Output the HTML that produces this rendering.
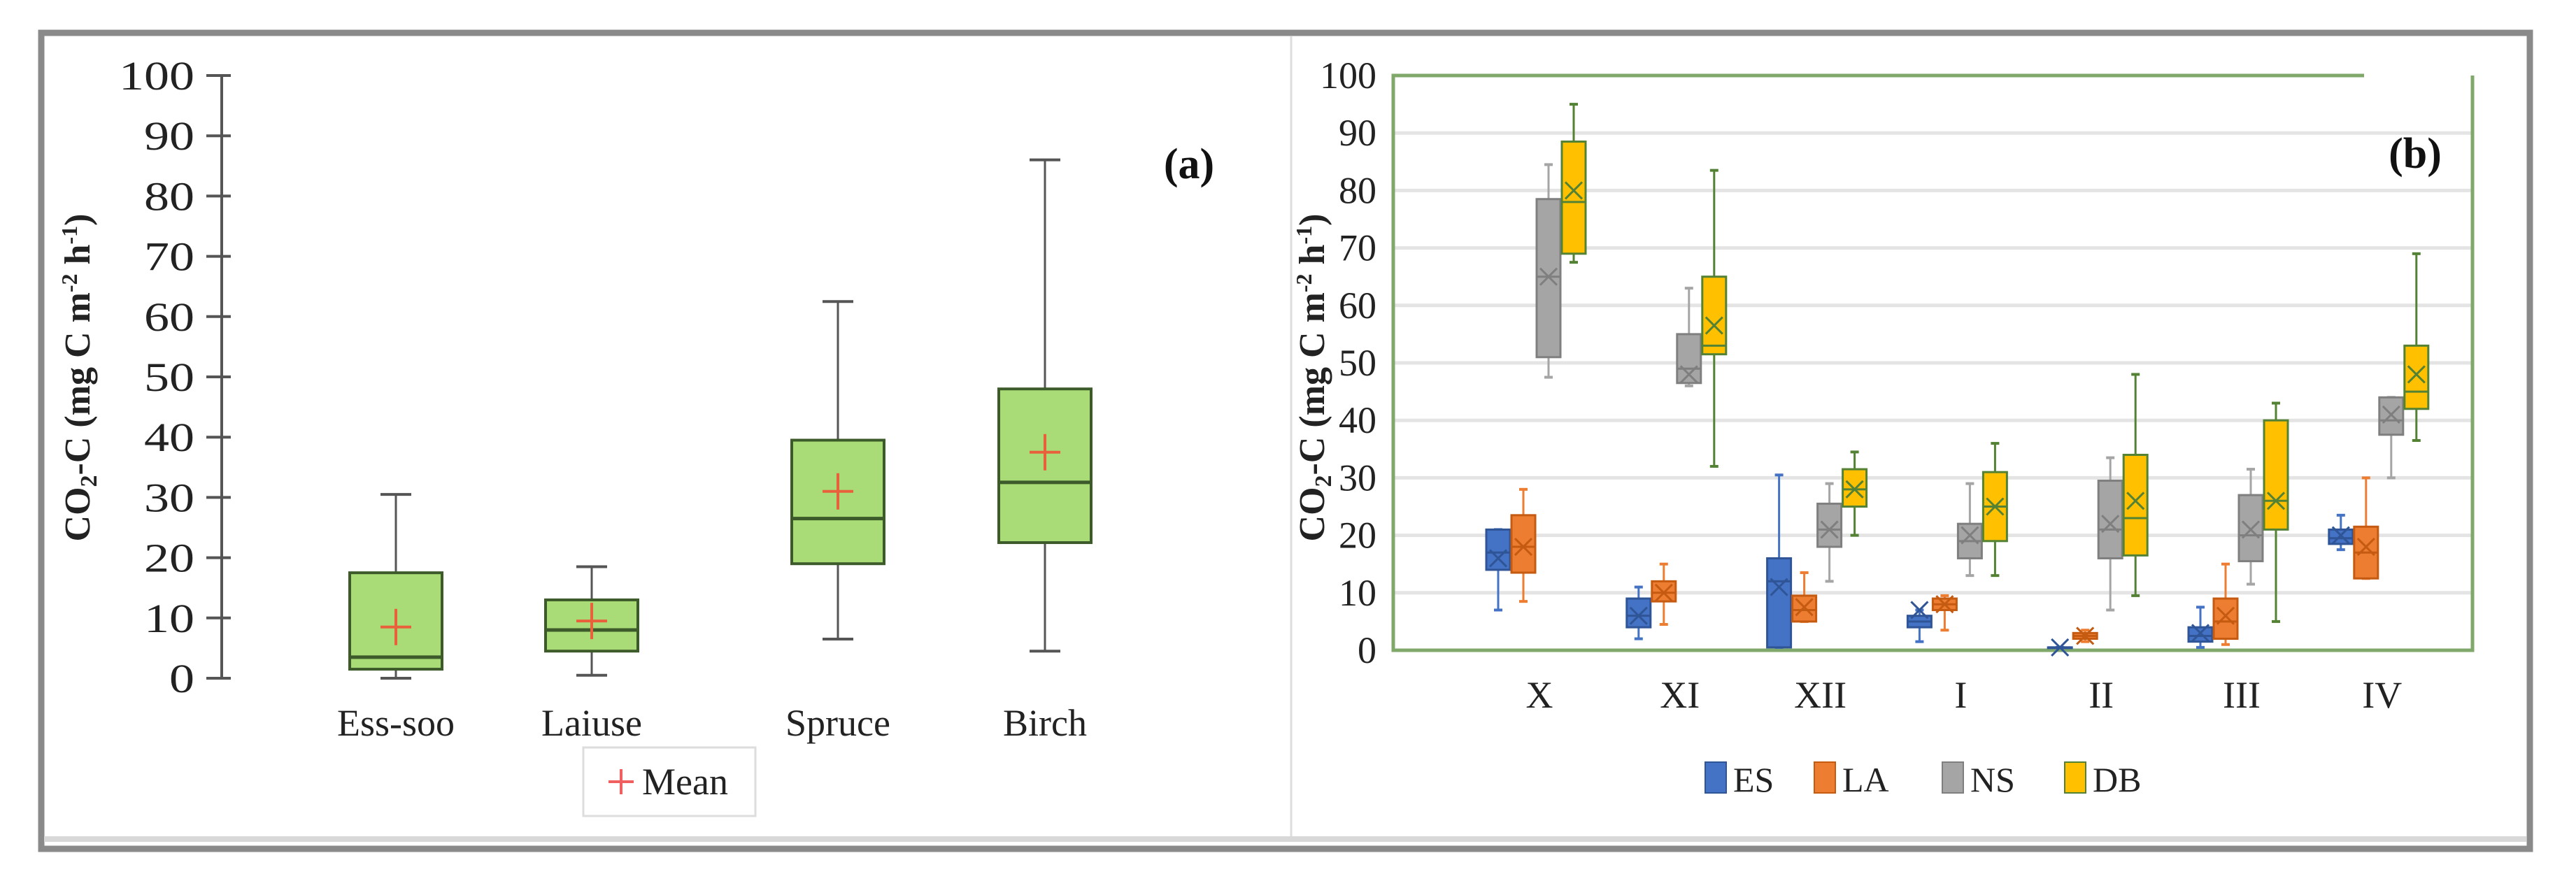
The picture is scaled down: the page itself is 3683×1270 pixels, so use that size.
<!DOCTYPE html>
<html><head><meta charset="utf-8"><style>
body{margin:0;background:#fff;}
svg{display:block;font-family:"Liberation Serif",serif;}
</style></head><body>
<svg id="s" width="3683" height="1270" viewBox="0 0 3683 1270">
<rect x="59" y="47" width="3558" height="1167" fill="#fff" stroke="#8a8a8a" stroke-width="9"/>
<line x1="63" y1="1200" x2="3612" y2="1200" stroke="#d8d8d8" stroke-width="8"/>
<line x1="1846" y1="52" x2="1846" y2="1196" stroke="#ddd" stroke-width="3"/>
<g id="ga"></g>
<g id="gb"></g>
</svg>
<script>
const catsA=["Ess-soo","Laiuse","Spruce","Birch"];
const minA=[0,0.5,6.5,4.5];
const q1A=[1.5,4.5,19,22.5];
const medA=[3.5,8,26.5,32.5];
const q3A=[17.5,13,39.5,48];
const maxA=[30.5,18.5,62.5,86];
const meanA=[8.5,9.5,31,37.5];
const ticks=[0,10,20,30,40,50,60,70,80,90,100];

const catsB=["X","XI","XII","I","II","III","IV"];
const seriesB=["ES","LA","NS","DB"];
const minB=[[7,2,0.5,1.5,0.5,0.5,17.5],[8.5,4.5,5,3.5,1.5,1,12.5],[47.5,46,12,13,7,11.5,30],[67.5,32,20,13,9.5,5,36.5]];
const q1B=[[14,4,0.5,4,0.5,1.5,18.5],[13.5,8.5,5,7,2,2,12.5],[51,46.5,18,16,16,15.5,37.5],[69,51.5,25,19,16.5,21,42]];
const medB=[[17,6,12,5,0.5,2.5,19.5],[18,10,7,8,2.5,5,17],[65,49,21,19,21,20,40],[78,53,28,25,23,26,45]];
const q3B=[[21,9,16,6,0.5,4,21],[23.5,12,9.5,9,3,9,21.5],[78.5,55,25.5,22,29.5,27,44],[88.5,65,31.5,31,34,40,53]];
const maxB=[[21,11,30.5,7,0.5,7.5,23.5],[28,15,13.5,9.5,3.5,15,30],[84.5,63,29,29,33.5,31.5,44],[95,83.5,34.5,36,48,43,69]];
const meanB=[[16,6,11,7,0.5,3,20],[18,10,7.5,8,2.5,6,18],[65,48,21,20,22,21,41],[80,56.5,28,25,26,26,48]];

const NS="http://www.w3.org/2000/svg";
function mk(p,t,a,txt){const e=document.createElementNS(NS,t);for(const k in a)e.setAttribute(k,a[k]);if(txt!==undefined)e.textContent=txt;p.appendChild(e);return e;}

// Panel A
const ga=document.getElementById('ga');
const yA=v=>970-v*8.62;
const xA=i=>[566,846,1198,1494][i];
let e=mk(ga,'line',{x1:317,y1:yA(0),x2:317,y2:yA(100),stroke:'#555','stroke-width':4});

ticks.forEach(t=>{
 let l=mk(ga,'line',{x1:295,x2:330,y1:yA(t),y2:yA(t),stroke:'#555','stroke-width':4});
 
 const n=String(t).length;
 let tx=mk(ga,'text',{x:278-n*36,y:yA(t)+20,'font-size':58,fill:'#222',textLength:n*36,lengthAdjust:'spacingAndGlyphs'},t);
 
});
e=mk(ga,'text',{transform:'translate(128,540) rotate(-90)','text-anchor':'middle','font-size':52,'font-weight':'bold',fill:'#222'});
e.innerHTML='CO<tspan font-size="34" dy="10">2</tspan><tspan dy="-10">-C (mg C m</tspan><tspan font-size="32" dy="-18">-2</tspan><tspan dy="18"> h</tspan><tspan font-size="32" dy="-18">-1</tspan><tspan dy="18">)</tspan>';

catsA.forEach((c,i)=>{
 const x=xA(i),w=132;
 let g=mk(ga,'g',{});
 
 mk(g,'line',{x1:x,x2:x,y1:yA(maxA[i]),y2:yA(minA[i]),stroke:'#555','stroke-width':3});
 mk(g,'line',{x1:x-22,x2:x+22,y1:yA(maxA[i]),y2:yA(maxA[i]),stroke:'#555','stroke-width':4});
 mk(g,'line',{x1:x-22,x2:x+22,y1:yA(minA[i]),y2:yA(minA[i]),stroke:'#555','stroke-width':4});
 mk(g,'rect',{x:x-w/2,y:yA(q3A[i]),width:w,height:yA(q1A[i])-yA(q3A[i]),fill:'#a9dc76',stroke:'#3d5a2a','stroke-width':4});
 mk(g,'line',{x1:x-w/2,x2:x+w/2,y1:yA(medA[i]),y2:yA(medA[i]),stroke:'#3d5a2a','stroke-width':5});
 const m=yA(meanA[i]);
 mk(g,'path',{d:`M${x-22} ${m}H${x+22}M${x} ${m-26}V${m+26}`,stroke:'#e8603c','stroke-width':4});
 let t=mk(ga,'text',{x:x,y:1052,'text-anchor':'middle','font-size':54,fill:'#222'},c);
 
});
e=mk(ga,'text',{x:1700,y:255,'text-anchor':'middle','font-size':62,'font-weight':'bold',fill:'#111'},'(a)');

e=mk(ga,'rect',{x:834,y:1069,width:246,height:98,fill:'#fff',stroke:'#ddd','stroke-width':3});

e=mk(ga,'path',{d:'M870 1118H906M888 1100V1136',stroke:'#f06060','stroke-width':4});

e=mk(ga,'text',{x:918,y:1136,'font-size':54,fill:'#222'},'Mean');


// Panel B
const gb=document.getElementById('gb');
const yB=v=>930-v*8.22;
const xB=i=>2201+i*200.8;
const cols=['#4472c4','#ed7d31','#a5a5a5','#ffc000'];
const strokes=['#2f5597','#c55a11','#7f7f7f','#548235'];
ticks.forEach(t=>{
 if(t>0&&t<100){let l=mk(gb,'line',{x1:1992,x2:3535,y1:yB(t),y2:yB(t),stroke:'#e4e4e4','stroke-width':5});
 }
 let tx=mk(gb,'text',{x:1968,y:yB(t)+18,'text-anchor':'end','font-size':54,fill:'#222'},t);
 
});
e=mk(gb,'path',{d:`M3380 ${yB(100)}H1992V${yB(0)}H3535V${yB(100)}`,fill:'none',stroke:'#7fa86a','stroke-width':5});

e=mk(gb,'text',{transform:'translate(1893,540) rotate(-90)','text-anchor':'middle','font-size':52,'font-weight':'bold',fill:'#222'});
e.innerHTML='CO<tspan font-size="34" dy="10">2</tspan><tspan dy="-10">-C (mg C m</tspan><tspan font-size="32" dy="-18">-2</tspan><tspan dy="18"> h</tspan><tspan font-size="32" dy="-18">-1</tspan><tspan dy="18">)</tspan>';

catsB.forEach((c,i)=>{
 seriesB.forEach((s,k)=>{
  const x=xB(i)+(k-1.5)*36-5,w=34;
  let g=mk(gb,'g',{});
  
  const st=k==3?'#548235':cols[k];
  mk(g,'line',{x1:x,x2:x,y1:yB(maxB[k][i]),y2:yB(minB[k][i]),stroke:st,'stroke-width':3});
  mk(g,'line',{x1:x-6,x2:x+6,y1:yB(maxB[k][i]),y2:yB(maxB[k][i]),stroke:st,'stroke-width':4});
  mk(g,'line',{x1:x-6,x2:x+6,y1:yB(minB[k][i]),y2:yB(minB[k][i]),stroke:st,'stroke-width':4});
  const h=Math.max(1,yB(q1B[k][i])-yB(q3B[k][i]));
  mk(g,'rect',{x:x-w/2,y:yB(q3B[k][i]),width:w,height:h,fill:cols[k],stroke:strokes[k],'stroke-width':3});
  mk(g,'line',{x1:x-w/2,x2:x+w/2,y1:yB(medB[k][i]),y2:yB(medB[k][i]),stroke:strokes[k],'stroke-width':3});
  const m=yB(meanB[k][i]);
  mk(g,'path',{d:`M${x-12} ${m-12}L${x+12} ${m+12}M${x-12} ${m+12}L${x+12} ${m-12}`,stroke:strokes[k],'stroke-width':3});
 });
 let t=mk(gb,'text',{x:xB(i),y:1012,'text-anchor':'middle','font-size':54,fill:'#222'},c);
 
});
e=mk(gb,'text',{x:3453,y:240,'text-anchor':'middle','font-size':62,'font-weight':'bold',fill:'#111'},'(b)');

const lx=[2438,2594,2777,2952];
seriesB.forEach((s,k)=>{
 let r=mk(gb,'rect',{x:lx[k],y:1090,width:30,height:44,fill:cols[k],stroke:strokes[k],'stroke-width':2});
 
 let t=mk(gb,'text',{x:lx[k]+40,y:1132,'font-size':50,fill:'#222'},s);
 
});
</script>
</body></html>
